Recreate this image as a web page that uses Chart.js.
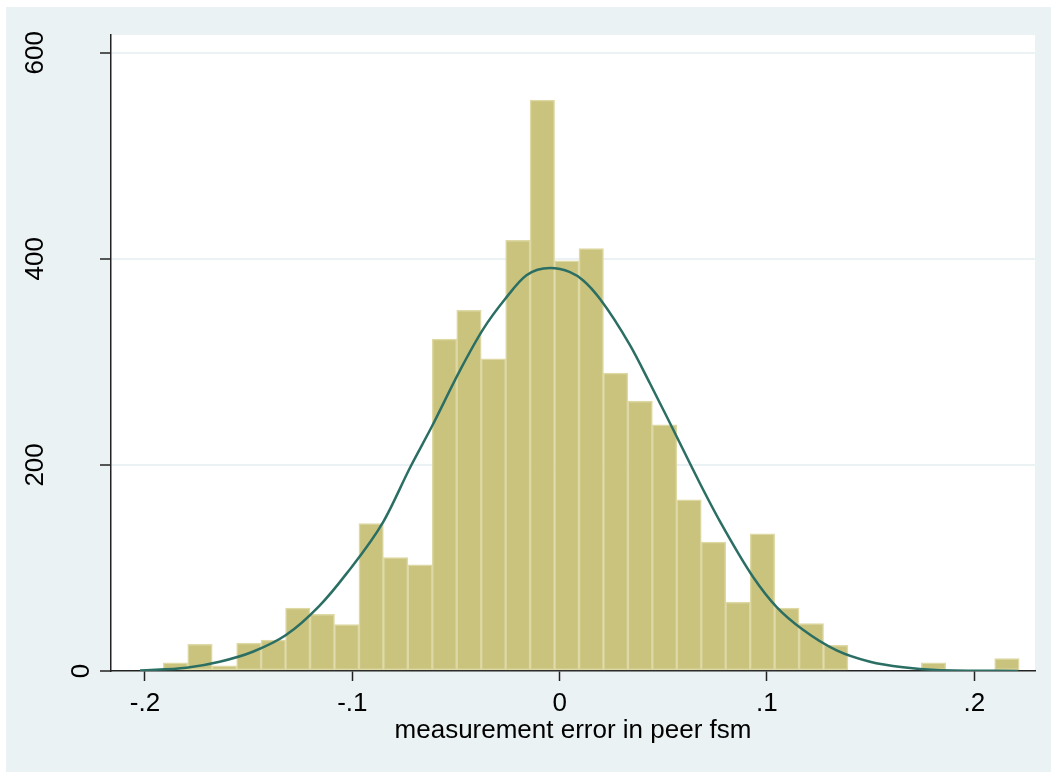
<!DOCTYPE html>
<html lang="en">
<head>
  <meta charset="UTF-8" />
  <title>Measurement error histogram</title>
  <script src="https://cdn.jsdelivr.net/npm/chart.js"></script>
  <style>
    html, body {
      margin: 0;
      background: #ffffff;
      overflow: hidden;
    }
    .backdrop {
      position: fixed;
      left: 6px;
      top: 7px;
      right: 0;
      bottom: 0;
      background: #eaf2f3;
    }
    #hist {
      position: absolute;
      left: 6px;
      top: 7px;
    }
  </style>
</head>
<body>
  <div class="backdrop"></div>
  <canvas id="hist" width="1045" height="765"></canvas>

  <script>
    // histogram bins (frequency)
    const binStart = -0.19117;
    const binWidth = 0.011795;
    const counts = [8, 26, 5, 27, 30, 61, 55, 45, 143, 110, 103, 322, 350, 303, 418, 554, 398, 410,
                    289, 262, 239, 166, 125, 67, 133, 61, 46, 25, 0, 0, 0, 8, 0, 0, 12];

    // normal density overlay
    const curveX = [-0.2024, -0.180, -0.164, -0.148, -0.132, -0.116, -0.103, -0.085, -0.072, -0.0617,
                    -0.048, -0.0368, -0.0263, -0.016, -0.0046, 0.005, 0.0114, 0.0195, 0.034, 0.0436,
                    0.0541, 0.0677, 0.0774, 0.0934, 0.1047, 0.1174, 0.1336, 0.1497, 0.1657, 0.1818, 0.2211];
    const curveY = [0.5, 3.2, 9, 18.7, 34.9, 63, 94, 145, 198, 237,
                    292, 332, 361, 384, 391, 387, 379, 361, 316, 279,
                    237, 182, 145, 91, 62, 40, 20, 9, 3.6, 1, 0];

    const xTickValues = [-0.2, -0.1, 0, 0.1, 0.2];
    const xTickLabels = ['-.2', '-.1', '0', '.1', '.2'];
    const yTickValues = [0, 200, 400, 600];
    const yTickLabels = ['0', '200', '400', '600'];
    const xTitle = 'measurement error in peer fsm';

    const FONT = '"Liberation Sans", Arial, Helvetica, sans-serif';

    const bgPlugin = {
      id: 'bg',
      beforeDraw(chart) {
        const { ctx, chartArea: a } = chart;
        ctx.save();
        ctx.fillStyle = '#eaf2f3';
        ctx.fillRect(0, 0, chart.width, chart.height);
        ctx.fillStyle = '#ffffff';
        ctx.fillRect(a.left, a.top, a.right - a.left, a.bottom - a.top);
        ctx.restore();
      }
    };

    // stata puts the vertical y labels a bit oddly, the "0" sits nearer the axis
    const yLabelPlugin = {
      id: 'yLabels',
      afterDraw(chart) {
        const s = chart.scales.y;
        const ctx = chart.ctx;
        ctx.save();
        ctx.font = '26px ' + FONT;
        ctx.fillStyle = '#000';
        ctx.textAlign = 'center';
        ctx.textBaseline = 'middle';
        yTickValues.forEach((v, i) => {
          const y = s.getPixelForValue(v);
          const x = v === 0 ? s.right - 29 : s.right - 75;
          ctx.save();
          ctx.translate(x, y);
          ctx.rotate(-Math.PI / 2);
          ctx.fillText(yTickLabels[i], 0, 0);
          ctx.restore();
        });
        ctx.restore();
      }
    };

    const barData = counts.map((c, i) => ({ x: binStart + (i + 0.5) * binWidth, y: c }));
    const lineData = curveX.map((x, i) => ({ x: x, y: curveY[i] }));

    new Chart(document.getElementById('hist'), {
      type: 'bar',
      data: {
        datasets: [
          {
            type: 'line',
            data: lineData,
            borderColor: '#2b6e63',
            borderWidth: 2.5,
            pointRadius: 0,
            fill: false,
            cubicInterpolationMode: 'monotone',
            order: 0
          },
          {
            type: 'bar',
            data: barData,
            backgroundColor: '#cac37e',
            borderColor: '#ddd8a4',
            borderWidth: 1.5,
            borderSkipped: false,
            barPercentage: 1,
            categoryPercentage: 1,
            order: 1
          }
        ]
      },
      options: {
        responsive: false,
        animation: false,
        layout: { padding: { top: 28, right: 16, left: 0, bottom: 0 } },
        plugins: {
          legend: { display: false },
          tooltip: { enabled: false }
        },
        scales: {
          x: {
            type: 'linear',
            offset: false,
            min: -0.2164,
            max: 0.2293,
            afterBuildTicks: s => { s.ticks = xTickValues.map(v => ({ value: v })); },
            afterFit: s => { s.height = 101; },
            ticks: {
              callback: (v, i) => xTickLabels[i],
              color: '#000',
              font: { family: FONT, size: 26 },
              padding: 7,
              maxRotation: 0
            },
            grid: {
              offset: false,
              drawOnChartArea: false,
              drawTicks: true,
              tickLength: 10,
              tickColor: '#222',
              tickWidth: 1.5
            },
            border: { display: true, color: '#222', width: 1.5 },
            title: {
              display: true,
              text: xTitle,
              color: '#000',
              font: { family: FONT, size: 26 },
              padding: { top: 0, bottom: 26 }
            }
          },
          y: {
            type: 'linear',
            min: 0,
            max: 617.2,
            afterBuildTicks: s => { s.ticks = yTickValues.map(v => ({ value: v })); },
            afterFit: s => { s.width = 105; },
            ticks: { display: false },
            grid: {
              color: ctx => (ctx.tick && ctx.tick.value === 0 ? 'rgba(0,0,0,0)' : '#eaf2f3'),
              lineWidth: 2,
              drawTicks: true,
              tickLength: 11,
              tickColor: '#222',
              tickWidth: 1.5
            },
            border: { display: true, color: '#222', width: 1.5 }
          }
        }
      },
      plugins: [bgPlugin, yLabelPlugin]
    });
  </script>
</body>
</html>
